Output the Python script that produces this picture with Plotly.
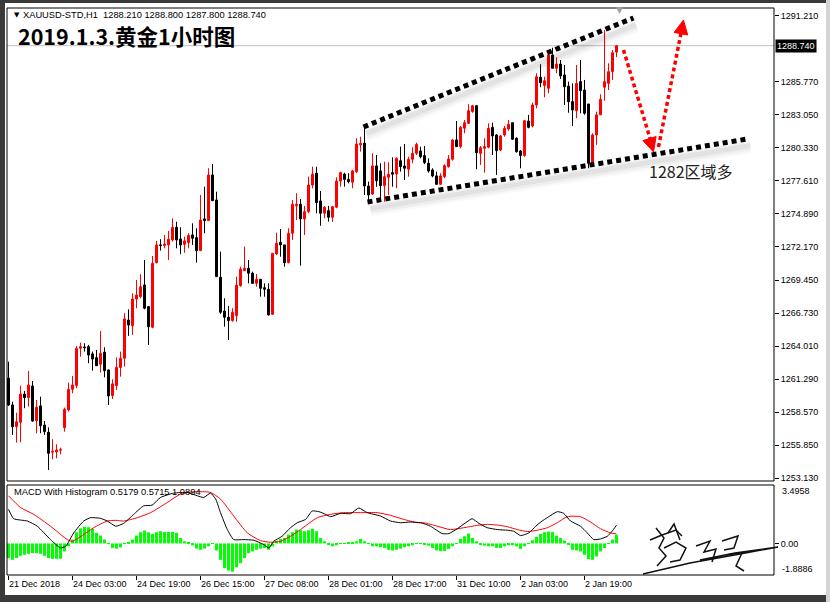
import plotly.graph_objects as go

# ---------------- data ----------------
bar_index = list(range(153))
opens = [1261.37,1259.17,1257.38,1257.74,1260.07,1259.77,1260.73,1257.88,1259.09,1257.52,
 1256.92,1255.28,1255.30,1255.44,1257.30,1258.76,1260.46,1260.76,1263.83,1263.94,
 1263.97,1263.37,1263.06,1262.52,1263.51,1262.05,1259.93,1260.76,1262.24,1263.01,
 1266.16,1265.69,1267.89,1268.08,1269.04,1267.26,1265.56,1270.88,1272.34,1272.28,
 1272.34,1272.75,1273.79,1272.83,1272.39,1272.53,1273.16,1272.94,1271.87,1274.48,
 1274.34,1278.10,1276.04,1269.68,1266.90,1266.39,1266.11,1266.52,1268.99,1270.22,
 1270.42,1270.01,1269.18,1269.51,1268.82,1268.69,1266.63,1271.60,1272.56,1272.34,
 1270.88,1273.30,1275.55,1275.69,1274.48,1275.08,1277.27,1278.24,1275.96,1274.95,
 1275.16,1274.62,1275.44,1277.60,1278.16,1277.74,1277.50,1278.37,1280.57,1280.71,
 1277.19,1276.53,1278.84,1278.43,1277.22,1277.91,1278.29,1278.18,1279.27,1278.84,
 1278.57,1279.39,1279.88,1280.07,1279.69,1279.06,1278.51,1278.02,1277.33,1277.96,
 1278.78,1279.39,1280.98,1280.43,1281.94,1282.35,1283.31,1283.80,1279.88,1280.29,
 1280.38,1282.02,1281.39,1280.15,1281.39,1281.88,1282.40,1281.12,1280.07,1279.69,
 1282.54,1282.13,1283.86,1286.14,1285.45,1285.23,1287.97,1286.88,1287.23,1286.33,
 1285.42,1284.13,1283.39,1285.78,1285.09,1283.94,1279.06,1281.39,1283.04,1285.32,
 1285.64,1286.60,1288.21]
highs = [1262.73,1259.44,1258.53,1260.76,1260.32,1261.97,1261.14,1259.58,1259.85,1257.85,
 1257.33,1256.35,1255.93,1255.65,1258.95,1261.00,1261.56,1264.02,1264.30,1264.25,
 1264.11,1263.56,1263.69,1265.26,1263.92,1262.05,1261.28,1263.09,1263.56,1266.72,
 1267.04,1268.36,1269.46,1269.93,1271.10,1267.26,1271.43,1272.67,1272.81,1273.16,
 1273.49,1274.53,1274.25,1273.79,1273.02,1273.30,1274.12,1273.71,1276.45,1277.13,
 1278.65,1279.00,1276.72,1271.79,1267.95,1267.32,1267.13,1269.73,1270.55,1272.20,
 1271.10,1270.14,1269.95,1269.51,1269.18,1269.18,1271.65,1273.35,1273.65,1272.34,
 1273.71,1276.04,1276.59,1276.12,1275.55,1277.96,1278.78,1278.78,1276.78,1275.55,
 1275.55,1275.55,1277.91,1278.37,1278.29,1278.24,1278.51,1281.12,1281.25,1282.21,
 1277.55,1279.88,1279.74,1279.06,1279.19,1279.14,1279.55,1279.55,1280.43,1280.65,
 1279.60,1280.38,1280.76,1280.43,1280.48,1279.47,1278.65,1278.37,1278.24,1278.98,
 1279.74,1281.04,1282.54,1282.13,1282.62,1283.92,1283.86,1283.86,1280.48,1281.12,
 1282.35,1282.40,1281.47,1281.39,1282.13,1282.62,1282.40,1281.20,1280.15,1282.62,
 1283.04,1284.05,1286.47,1287.21,1286.19,1288.38,1288.57,1287.78,1287.56,1287.15,
 1285.78,1285.64,1287.15,1287.56,1285.92,1283.94,1281.53,1283.31,1284.74,1290.03,
 1287.29,1288.38,1288.80]
lows = [1259.09,1256.70,1256.07,1256.10,1258.90,1259.03,1257.79,1256.84,1256.84,1256.70,
 1253.82,1254.70,1254.78,1255.11,1256.97,1258.62,1260.13,1260.54,1263.14,1263.56,
 1262.60,1261.99,1262.40,1261.83,1261.45,1259.17,1259.66,1260.40,1261.50,1262.32,
 1264.85,1264.93,1267.13,1267.95,1267.04,1264.11,1265.48,1270.83,1271.87,1272.06,
 1271.10,1272.61,1272.06,1271.57,1271.70,1272.06,1272.34,1270.88,1271.87,1273.30,
 1274.34,1275.98,1269.73,1266.66,1265.61,1264.52,1266.02,1266.02,1268.90,1270.22,
 1269.18,1269.18,1268.90,1268.08,1268.08,1266.52,1266.58,1271.51,1271.37,1270.55,
 1270.83,1272.75,1274.39,1270.63,1273.16,1274.95,1277.00,1274.95,1273.92,1274.53,
 1274.25,1274.25,1275.36,1277.13,1277.13,1277.41,1277.00,1278.24,1280.02,1276.45,
 1275.77,1276.45,1277.13,1276.04,1275.90,1276.45,1277.13,1277.00,1278.37,1277.69,
 1277.96,1279.06,1279.74,1279.47,1278.98,1278.29,1277.91,1277.33,1277.27,1277.83,
 1278.70,1279.27,1280.43,1280.29,1281.53,1282.29,1283.22,1278.57,1278.92,1278.29,
 1280.29,1279.74,1278.10,1280.07,1281.25,1281.74,1280.98,1279.93,1278.65,1279.60,
 1281.94,1282.02,1283.59,1285.32,1284.49,1284.82,1286.88,1286.47,1286.00,1283.86,
 1283.22,1282.13,1282.76,1283.18,1283.04,1278.65,1278.92,1280.57,1283.04,1284.21,
 1285.09,1285.92,1287.80]
closes = [1259.17,1257.38,1257.79,1260.07,1259.77,1260.81,1257.85,1258.98,1257.46,1256.97,
 1255.19,1255.36,1255.46,1255.49,1258.81,1260.46,1260.81,1263.83,1263.97,1263.88,
 1263.28,1262.95,1262.40,1263.42,1261.99,1259.91,1260.90,1262.27,1263.01,1266.25,
 1265.75,1267.89,1268.22,1268.90,1267.13,1265.61,1270.83,1272.34,1272.28,1272.42,
 1272.81,1273.79,1272.75,1272.34,1272.67,1273.13,1272.89,1271.87,1274.39,1274.34,
 1278.10,1275.98,1269.73,1266.80,1266.39,1266.11,1266.80,1269.04,1270.34,1270.42,
 1270.01,1269.18,1269.51,1268.77,1268.69,1266.58,1271.65,1272.48,1272.34,1270.88,
 1273.30,1275.69,1275.69,1274.48,1275.08,1277.27,1278.16,1275.82,1274.95,1275.44,
 1274.62,1275.49,1277.60,1278.29,1277.74,1277.55,1278.43,1280.65,1280.71,1277.19,
 1276.45,1278.84,1277.63,1277.22,1277.96,1278.16,1278.16,1279.47,1278.78,1278.65,
 1279.39,1279.88,1280.62,1279.60,1279.11,1278.43,1278.02,1277.33,1278.02,1278.86,
 1279.41,1280.98,1280.43,1282.02,1282.40,1283.39,1283.80,1279.93,1280.34,1280.43,
 1281.94,1281.31,1280.10,1281.31,1281.94,1282.27,1281.04,1280.02,1279.69,1282.57,
 1282.02,1283.86,1286.19,1285.69,1285.86,1287.97,1286.88,1287.23,1286.25,1285.36,
 1284.13,1283.45,1285.64,1285.04,1283.18,1279.06,1281.39,1283.04,1284.33,1285.78,
 1286.60,1288.16,1288.74]

macd_hist = [-0.88,-0.98,-0.88,-0.74,-0.68,-0.62,-0.58,-0.58,-0.62,-0.74,
 -0.88,-0.92,-0.92,-0.92,-0.48,-0.17,0.23,0.67,0.90,1.00,
 0.97,0.88,0.63,0.47,0.23,-0.03,-0.27,-0.31,-0.23,-0.03,
 0.07,0.23,0.47,0.67,0.77,0.67,0.57,0.67,0.73,0.69,
 0.69,0.69,0.63,0.33,0.13,0.05,-0.11,-0.31,-0.38,-0.31,
 -0.17,0.02,-0.42,-0.98,-1.48,-1.62,-1.69,-1.42,-1.18,-0.88,
 -0.58,-0.48,-0.38,-0.31,-0.27,-0.38,-0.17,0.17,0.27,0.33,
 0.53,0.67,0.83,0.79,0.73,0.79,0.88,0.73,0.33,0.13,
 -0.07,-0.17,-0.11,-0.03,-0.01,0.03,0.05,0.13,0.27,0.13,
 -0.03,-0.17,-0.17,-0.23,-0.27,-0.38,-0.42,-0.38,-0.31,-0.23,
 -0.17,-0.11,-0.01,-0.03,-0.07,-0.13,-0.27,-0.42,-0.46,-0.46,
 -0.33,-0.17,-0.01,0.27,0.43,0.59,0.33,0.13,-0.07,-0.13,
 -0.17,-0.17,-0.27,-0.27,-0.17,-0.11,-0.11,-0.17,-0.33,-0.17,
 -0.03,0.19,0.39,0.57,0.67,0.71,0.69,0.47,0.33,0.17,
 -0.07,-0.38,-0.42,-0.48,-0.68,-0.94,-0.98,-0.78,-0.48,-0.27,
 -0.01,0.23,0.5179]

macd_x = [0,1.3,4.7,7.2,10.5,13,14.3,16.3,18.8,20.5,23,24.7,26.8,28.8,31.3,33.8,35.9,38,41.3,44.7,
 47.2,48.8,50.5,51.8,53,54.7,56.3,58.8,61.3,63.8,65.1,66.3,68.4,70.5,72.2,74.3,75.9,77.6,79.3,80.5,
 83,85.5,87.6,89.7,93,95.5,98,100.5,103,105.5,108.4,110.1,112.2,114.3,115.9,117.6,119.7,122.2,124.7,126.3,
 128,130.1,131.8,133.4,134.7,137.2,138.8,140.5,143,144.7,146.3,148,149.7,150.9,152]
macd_line = [2.04,1.48,1.34,1.03,0.23,-0.27,-0.17,0.63,1.34,1.54,1.50,1.34,1.03,1.20,1.74,2.25,2.29,2.75,3.01,3.05,
 2.85,2.75,3.01,2.65,1.84,0.83,0.23,0.23,0.19,-0.07,-0.27,0.13,0.43,0.94,1.24,1.44,1.94,1.90,1.74,1.60,
 1.80,1.78,2.12,1.84,1.64,1.34,1.24,1.28,1.24,1.03,0.59,0.59,0.88,1.24,1.48,1.20,0.94,0.83,0.79,0.73,
 0.47,0.63,1.03,1.34,1.54,1.90,1.80,1.34,1.03,0.63,0.23,0.27,0.43,0.73,1.0894]
signal_x = [0,3,6.3,10.5,14.7,15.9,18.8,21.3,24.7,26.8,28.8,32.2,35.5,39.7,43,46.3,50.5,53,56.3,59.7,
 63,65.5,68,70.5,73,77.2,80.5,83.8,88,92.2,95.5,98.8,102.2,103.8,107.2,110.5,113.8,117.2,119.7,122.2,
 124.7,127.2,129.7,132.2,134.7,137.2,139.7,143,145.5,148,150.5,152]
signal_line = [2.85,2.15,1.74,1.03,0.23,0.13,0.53,0.94,1.34,1.38,1.34,1.54,1.84,2.45,2.95,3.09,3.05,2.65,1.64,0.63,
 0.17,0.07,0.13,0.43,0.83,1.54,1.74,1.84,1.84,1.84,1.68,1.44,1.24,1.24,1.03,0.83,0.94,1.08,1.14,1.10,
 1.00,0.83,0.71,0.79,0.94,1.24,1.60,1.60,1.28,0.88,0.63,0.5715]

time_tick_bars = [0,16,32,48,64,80,96,112,128,144]
time_tick_labels = ["21 Dec 2018","24 Dec 03:00","24 Dec 19:00","26 Dec 15:00","27 Dec 08:00",
                    "28 Dec 01:00","28 Dec 17:00","31 Dec 10:00","2 Jan 03:00","2 Jan 19:00"]
price_ticks = [1291.21,1285.77,1283.05,1280.33,1277.61,1274.89,1272.17,1269.45,1266.73,
               1264.01,1261.29,1258.57,1255.85,1253.13]
last_price = 1288.74
macd_max, macd_min = 3.4958, -1.8886

# hand-drawn analysis lines (bar index, price)
upper_trend = ([88.75,156.25],[1282.05,1291.02])
lower_trend = ([89.75,184.75],[1275.88,1281.06])
down_arrow = ([153.75,160.5],[1288.39,1280.98])
down_head = ([161.25,161.9,158.6],[1279.99,1281.26,1280.93])
up_arrow = ([162.5,168.1],[1280.40,1289.73])
up_head = ([168.75,169.8,166.4],[1290.85,1289.62,1289.83])
note_pos = (159.7, 1278.45)

assert len(opens)==len(highs)==len(lows)==len(closes)==len(macd_hist)==153
assert len(macd_x)==len(macd_line) and len(signal_x)==len(signal_line)

# ---------------- layout geometry ----------------
W, H = 830, 602
L, R, T, B = 7, 56, 8, 27
pw, ph = W - L - R, H - T - B
def pxx(px): return (px - L) / pw
def pxy(py): return (H - B - py) / ph

price_dom = [pxy(481), 1.0]
macd_dom = [0.0, pxy(485)]
x_range = [-0.375, -0.375 + pw / 4.0]

fig = go.Figure()

# candles: wicks then bodies
for up, col in ((True, "#ff0000"), (False, "#000000")):
    idx = [i for i in bar_index if (closes[i] >= opens[i]) == up]
    wx, wy = [], []
    for i in idx:
        wx += [i, i, None]
        wy += [lows[i], highs[i], None]
    fig.add_trace(go.Scatter(x=wx, y=wy, mode="lines", line=dict(color=col, width=1),
                             xaxis="x", yaxis="y", showlegend=False, hoverinfo="skip"))
    fig.add_trace(go.Bar(x=idx, base=[min(opens[i], closes[i]) for i in idx],
                         y=[max(abs(closes[i] - opens[i]), 0.02) for i in idx], width=0.5,
                         marker=dict(color="#ffffff" if up else "#000000", line=dict(color=col, width=1)),
                         xaxis="x", yaxis="y", showlegend=False, hoverinfo="skip"))

fig.add_trace(go.Bar(x=bar_index, y=macd_hist, marker=dict(color="#00ff00", line=dict(width=0)),
                     width=0.75, xaxis="x", yaxis="y2", showlegend=False, hoverinfo="skip"))
fig.add_trace(go.Scatter(x=signal_x, y=signal_line, mode="lines", line=dict(color="#ff0000", width=1, shape="spline", smoothing=0.6),
                         xaxis="x", yaxis="y2", showlegend=False, hoverinfo="skip"))
fig.add_trace(go.Scatter(x=macd_x, y=macd_line, mode="lines", line=dict(color="#000000", width=1, shape="spline", smoothing=0.5),
                         xaxis="x", yaxis="y2", showlegend=False, hoverinfo="skip"))

shapes = []
shapes.append(dict(type="line", xref="paper", yref="y", x0=0, x1=1, y0=last_price, y1=last_price,
                   line=dict(color="#c0c0c0", width=1), layer="below"))
for (xs, ys) in (upper_trend, lower_trend):
    for w, a, dy in ((13, 0.025, 0.65), (9, 0.04, 0.6), (5, 0.05, 0.55)):
        shapes.append(dict(type="line", xref="x", yref="y", x0=xs[0]+0.7, x1=xs[1]+0.7, y0=ys[0]-dy, y1=ys[1]-dy,
                           line=dict(color=f"rgba(0,0,0,{a})", width=w), layer="above"))
    shapes.append(dict(type="line", xref="x", yref="y", x0=xs[0], x1=xs[1], y0=ys[0], y1=ys[1],
                       line=dict(color="#000000", width=5, dash="5px,4px"), layer="above"))
for (xs, ys) in (down_arrow, up_arrow):
    shapes.append(dict(type="line", xref="x", yref="y", x0=xs[0], x1=xs[1], y0=ys[0], y1=ys[1],
                       line=dict(color="#ff0000", width=3.5, dash="4px,3px"), layer="above"))
for (xs, ys) in (down_head, up_head):
    path = f"M {xs[0]},{ys[0]} L {xs[1]},{ys[1]} L {xs[2]},{ys[2]} Z"
    shapes.append(dict(type="path", xref="x", yref="y", path=path, fillcolor="#ff0000",
                       line=dict(color="#ff0000", width=1), layer="above"))
shapes.append(dict(type="rect", xref="paper", yref="paper", x0=0, x1=1, y0=price_dom[0], y1=1,
                   line=dict(color="#000000", width=1)))
shapes.append(dict(type="rect", xref="paper", yref="paper", x0=0, x1=1, y0=0, y1=macd_dom[1],
                   line=dict(color="#000000", width=1)))
# window frame
def frect(x0, y0, x1, y1, col):
    return dict(type="rect", xref="paper", yref="paper", x0=pxx(x0), x1=pxx(x1), y0=pxy(y1), y1=pxy(y0),
                fillcolor=col, line=dict(width=0), layer="above")
shapes += [frect(0, 0, 5, 602, "#3a3a3a"), frect(0, 595, 830, 602, "#3a3a3a"),
           frect(0, 0, 830, 3, "#3a3a3a"), frect(826, 0, 830, 602, "#d4d4d4")]
# signature (decorative strokes)
sig = [[(643,574),(690,563),(740,554),(778,547),(735,553),(700,560)],
       [(656,528),(664,538),(659,548),(666,556),(657,566)],
       [(650,540),(662,535),(676,530),(682,536)],
       [(664,548),(676,542),(686,548),(680,560),(670,562)],
       [(668,533),(674,524),(680,540)],
       [(696,546),(710,541),(704,552),(716,549),(712,562)],
       [(722,541),(738,536),(734,548),(724,550)],
       [(726,555),(742,553),(736,566),(744,571)]]
for s in sig:
    d = "M " + " L ".join(f"{pxx(x)},{pxy(y)}" for x, y in s)
    shapes.append(dict(type="path", xref="paper", yref="paper", path=d, line=dict(color="#111111", width=1.5)))

ann = []
def pann(x, y, text, size, color="#000000", family="Liberation Sans", xanchor="left", **kw):
    return dict(xref="paper", yref="paper", x=pxx(x), y=pxy(y), xanchor=xanchor, yanchor="middle",
                text=text, showarrow=False, font=dict(size=size, color=color, family=family), **kw)
ann.append(pann(12, 15, "▼", 7, family="DejaVu Sans"))
ann.append(pann(21, 15, "XAUUSD-STD,H1\u00a0\u00a01288.210 1288.800 1287.800 1288.740", 9.3))
ann.append(pann(16, 35, "<b>2019.1.3.黄金1小时图</b>", 21.5, family="Noto Sans CJK SC"))
ann.append(pann(12, 492, "MACD With Histogram 0.5179 0.5715 1.0894", 9.3))
ann.append(pann(780, 491, f"{macd_max:.4f}", 9))
ann.append(pann(780, 569, f"{macd_min:.4f}", 9))
ann.append(pann(619, 10, "▼", 9, color="#a0a0a0", family="DejaVu Sans", xanchor="center"))
ann.append(dict(xref="paper", yref="y", x=1, y=last_price, xanchor="left", yanchor="middle", xshift=1,
                text="1288.740", showarrow=False, bgcolor="#000000", borderpad=1,
                font=dict(size=9, color="#ffffff", family="Liberation Sans")))
ann.append(dict(xref="x", yref="y", x=note_pos[0], y=note_pos[1], xanchor="left", yanchor="middle",
                text="1282区域多", showarrow=False, font=dict(size=16, color="#222222", family="Noto Sans CJK SC")))

fig.update_layout(
    width=W, height=H, margin=dict(l=L, r=R, t=T, b=B, pad=0),
    paper_bgcolor="#ffffff", plot_bgcolor="#ffffff", barmode="overlay",
    shapes=shapes, annotations=ann, showlegend=False, hovermode=False,
    font=dict(family="Liberation Sans", size=9, color="#000000"),
    xaxis=dict(domain=[0, 1], anchor="y2", range=x_range, showgrid=False, zeroline=False,
               showline=False, tickvals=time_tick_bars, ticktext=time_tick_labels, ticks="outside",
               ticklen=4, tickcolor="#000000", ticklabelposition="outside right",
               tickfont=dict(size=9, family="Liberation Sans")),
    yaxis=dict(domain=price_dom, anchor="x", side="right", range=[1252.91, 1291.84], showgrid=False,
               zeroline=False, showline=False, tickvals=price_ticks, ticktext=[f"{v:.3f}" for v in price_ticks],
               ticks="outside", ticklen=4, tickcolor="#000000", tickfont=dict(size=9, family="Liberation Sans")),
    yaxis2=dict(domain=macd_dom, anchor="x", side="right", range=[macd_min, macd_max], showgrid=False,
                zeroline=False, showline=False, tickvals=[0], ticktext=["0.00"], ticks="outside", ticklen=4,
                tickcolor="#000000", tickfont=dict(size=9, family="Liberation Sans")),
)
fig.write_html("out.html", config={"displayModeBar": False},
               post_script="document.body.style.margin='0';document.body.style.overflow='hidden';")
